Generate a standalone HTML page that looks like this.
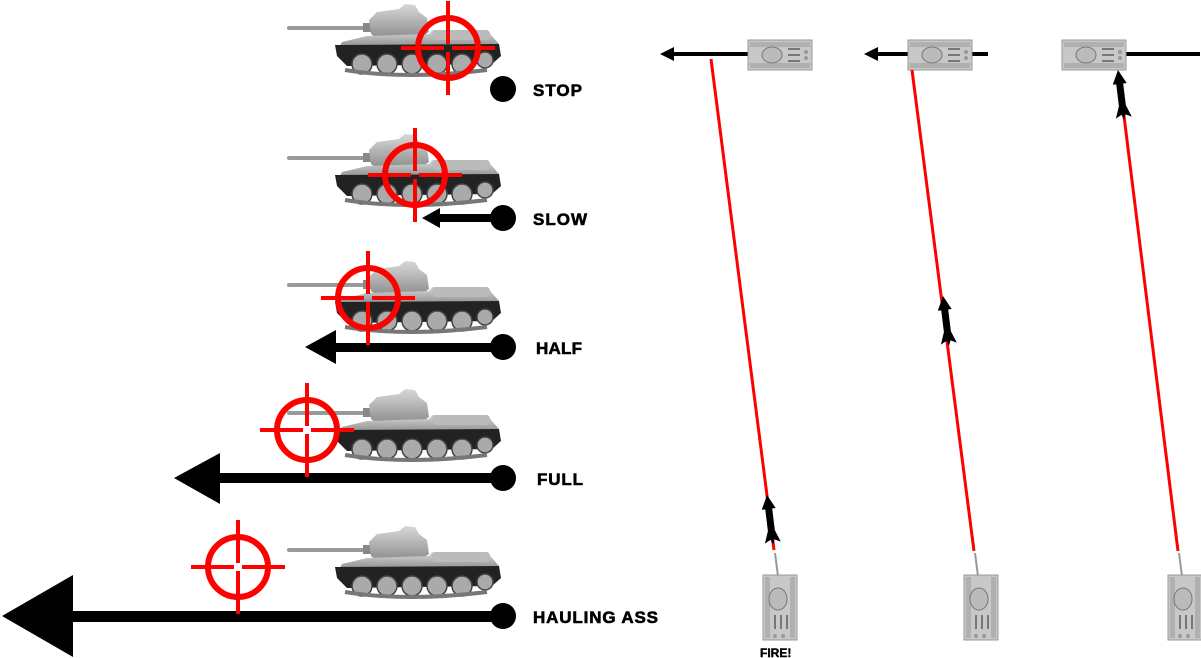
<!DOCTYPE html>
<html><head><meta charset="utf-8"><style>
html,body{margin:0;padding:0;background:#fff;width:1201px;height:658px;overflow:hidden}
text{font-family:"Liberation Sans",Arial,sans-serif;font-weight:bold}
</style></head><body>
<svg width="1201" height="658" viewBox="0 0 1201 658" xmlns="http://www.w3.org/2000/svg">
<defs>
<linearGradient id="tg" x1="0" y1="0" x2="0" y2="1"><stop offset="0" stop-color="#d8d8d8"/><stop offset="1" stop-color="#8a8a8a"/></linearGradient>
<g id="tank">
  <rect x="0" y="26" width="82" height="4" rx="2" fill="#999"/>
  <rect x="76" y="23" width="10" height="9" fill="#888"/>
  <path d="M82,20 L90,12 L112,9 L118,4 L128,5 L132,12 L140,18 L142,32 L130,40 L92,40 L84,34 Z" fill="url(#tg)"/>
  <path d="M55,42 L80,36 L142,34 L145,30 L200,30 L205,36 L212,44 L212,48 L52,48 Z" fill="url(#tg)"/>
  <rect x="145" y="30" width="58" height="10" rx="4" fill="#bbb"/>
  <path d="M48,45 L212,44 L214,56 L205,64 L60,66 L50,56 Z" fill="#222"/>
  <g fill="#aaa" stroke="#444" stroke-width="1.5">
    <circle cx="75" cy="64" r="10"/><circle cx="100" cy="64" r="10"/><circle cx="125" cy="64" r="10"/>
    <circle cx="150" cy="64" r="10"/><circle cx="175" cy="64" r="10"/><circle cx="198" cy="60" r="8"/>
  </g>
  <path d="M58,70 Q120,80 200,70" stroke="#777" stroke-width="4" fill="none"/>
</g>
<g id="cross">
  <circle r="30" fill="none" stroke="#f00" stroke-width="6"/>
  <path d="M-47,0 H-4 M4,0 H47 M0,-47 V-4 M0,4 V47" stroke="#f00" stroke-width="4"/>
</g>
<g id="topTank">
  <rect x="0" y="0" width="64" height="30" fill="#c8c8c8" stroke="#999"/>
  <rect x="2" y="2" width="60" height="5" fill="#b0b0b0"/>
  <rect x="2" y="23" width="60" height="5" fill="#b0b0b0"/>
  <ellipse cx="24" cy="15" rx="10" ry="8" fill="#bbb" stroke="#777"/>
  <path d="M40,9 H52 M40,15 H52 M40,21 H52" stroke="#777" stroke-width="2"/>
  <circle cx="58" cy="12" r="2" fill="#999"/><circle cx="58" cy="18" r="2" fill="#999"/>
</g>
<g id="botTank">
  <rect x="0" y="0" width="34" height="65" fill="#c8c8c8" stroke="#999"/>
  <rect x="2" y="2" width="5" height="61" fill="#b0b0b0"/>
  <rect x="27" y="2" width="5" height="61" fill="#b0b0b0"/>
  <ellipse cx="15" cy="24" rx="9" ry="11" fill="#bbb" stroke="#777"/>
  <path d="M12,40 V54 M18,40 V54 M24,40 V54" stroke="#777" stroke-width="2"/>
  <circle cx="12" cy="61" r="2" fill="#999"/><circle cx="20" cy="61" r="2" fill="#999"/>
</g>
<g id="missile">
  <path d="M0,0 L-7,14 L-3.5,14 L-3.5,36 L-8,48 L-2,45 L0,50 L2,45 L8,48 L3.5,36 L3.5,14 L7,14 Z" fill="#000"/>
</g>
</defs>

<use href="#tank" x="287" y="0"/>
<use href="#tank" x="287" y="130"/>
<use href="#tank" x="287" y="257"/>
<use href="#tank" x="287" y="385"/>
<use href="#tank" x="287" y="522"/>

<rect x="438" y="214" width="66" height="8" fill="#000"/>
<path d="M422,218 L440,208 L440,228 Z" fill="#000"/>
<rect x="330" y="343" width="174" height="9" fill="#000"/>
<path d="M305,347 L336,330 L336,364 Z" fill="#000"/>
<rect x="215" y="473" width="289" height="10" fill="#000"/>
<path d="M174,478 L220,453 L220,504 Z" fill="#000"/>
<rect x="65" y="611" width="439" height="11" fill="#000"/>
<path d="M2,616 L73,575 L73,657 Z" fill="#000"/>

<circle cx="503" cy="89" r="13" fill="#000"/>
<circle cx="503" cy="218" r="13" fill="#000"/>
<circle cx="503" cy="347" r="13" fill="#000"/>
<circle cx="503" cy="478" r="13" fill="#000"/>
<circle cx="503" cy="616" r="13" fill="#000"/>

<use href="#cross" x="448" y="48"/>
<use href="#cross" x="415" y="175"/>
<use href="#cross" x="368" y="298"/>
<use href="#cross" x="307" y="430"/>
<use href="#cross" x="238" y="567"/>

<g font-size="17" fill="#000" stroke="#000" stroke-width="0.6">
<text x="533" y="96" textLength="49">STOP</text>
<text x="533" y="225" textLength="54">SLOW</text>
<text x="536" y="354" textLength="46">HALF</text>
<text x="537" y="485" textLength="46">FULL</text>
<text x="533" y="623" textLength="125">HAULING ASS</text>
</g>

<rect x="672" y="52" width="78" height="4" fill="#000"/>
<path d="M660,54 L674,47 L674,61 Z" fill="#000"/>
<rect x="876" y="52" width="112" height="4" fill="#000"/>
<path d="M864,54 L878,47 L878,61 Z" fill="#000"/>
<rect x="1074" y="52" width="126" height="4" fill="#000"/>
<path d="M1064,54 L1078,47 L1078,61 Z" fill="#000"/>

<use href="#topTank" x="748" y="40"/>
<use href="#topTank" x="908" y="40"/>
<use href="#topTank" x="1062" y="40"/>

<g stroke="#f00" stroke-width="3">
<line x1="711" y1="59" x2="774" y2="550"/>
<line x1="912" y1="70" x2="974" y2="551"/>
<line x1="1122" y1="100" x2="1178" y2="551"/>
</g>
<g stroke="#999" stroke-width="2">
<line x1="775" y1="553" x2="778" y2="576"/>
<line x1="975" y1="553" x2="978" y2="576"/>
<line x1="1179" y1="553" x2="1182" y2="576"/>
</g>

<use href="#missile" transform="translate(767,495) rotate(-7)"/>
<use href="#missile" transform="translate(943,296) rotate(-7)"/>
<use href="#missile" transform="translate(1118,70) rotate(-7)"/>

<use href="#botTank" x="763" y="575"/>
<use href="#botTank" x="964" y="575"/>
<use href="#botTank" x="1168" y="575"/>

<text x="760" y="657" font-size="12" stroke="#000" stroke-width="0.4">FIRE!</text>
</svg>
</body></html>
